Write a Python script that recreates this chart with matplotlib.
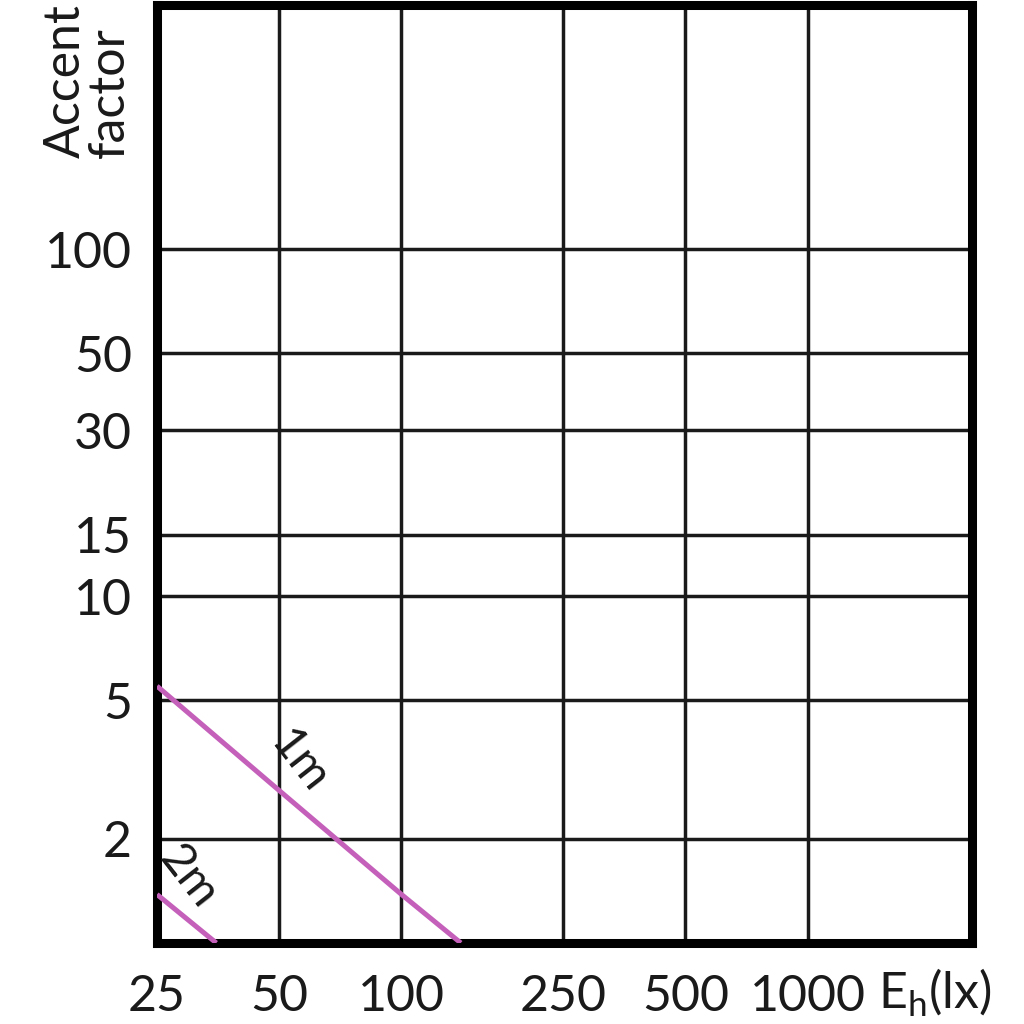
import matplotlib.pyplot as plt
from matplotlib.ticker import FixedLocator, NullLocator

plt.rcParams['font.family'] = ['Lato', 'DejaVu Sans']
plt.rcParams['mathtext.fontset'] = 'custom'
plt.rcParams['mathtext.rm'] = 'Lato'

# axis ticks
x_ticks = [25, 50, 100, 250, 500, 1000]
y_ticks = [2, 5, 10, 15, 30, 50, 100]

# curves (lux vs accent factor)
x_1m = [25, 50, 100, 140]
y_1m = [5.5, 2.75, 1.38, 1.0]
x_2m = [25, 35]
y_2m = [1.38, 1.0]

line_color = '#c45fba'
text_color = '#1a1a1a'

fig = plt.figure(figsize=(10.24, 10.24), dpi=100)
ax = fig.add_axes([157 / 1024, 1 - 943 / 1024, (972 - 157) / 1024, (943 - 5) / 1024])
ax.set_xscale('log')
ax.set_yscale('log')
ax.set_xlim(25, 2540)
ax.set_ylim(1, 505)

ax.plot(x_1m, y_1m, color=line_color, lw=3.6, solid_capstyle='butt', zorder=3)
ax.plot(x_2m, y_2m, color=line_color, lw=3.6, solid_capstyle='butt', zorder=3)

ax.text(56, 3.35, '1m', rotation=-52, fontsize=34, color=text_color,
        ha='center', va='center')
ax.text(29.8, 1.55, '2m', rotation=-52, fontsize=34, color=text_color,
        ha='center', va='center')

ax.xaxis.set_major_locator(FixedLocator(x_ticks))
ax.yaxis.set_major_locator(FixedLocator(y_ticks))
ax.xaxis.set_minor_locator(NullLocator())
ax.yaxis.set_minor_locator(NullLocator())
ax.set_xticklabels([str(v) for v in x_ticks])
ax.set_yticklabels([str(v) for v in y_ticks])
ax.tick_params(axis='both', length=0, labelsize=36, labelcolor=text_color)
ax.tick_params(axis='x', pad=22)
ax.tick_params(axis='y', pad=18)

ax.grid(True, color='#1a1a1a', lw=2.5)
ax.set_axisbelow(True)
for s in ax.spines.values():
    s.set_linewidth(6.5)
    s.set_color('black')

fig.text(88 / 1024, 1 - 158 / 1024, 'Accent\nfactor', rotation=90, fontsize=36,
         color=text_color, ha='center', va='bottom', multialignment='left',
         linespacing=0.95)
fig.text(878 / 1024, 1 - 993 / 1024, r'E$_{\mathregular{h}}$(lx)', fontsize=36,
         color=text_color, ha='left', va='center')

fig.savefig('out.png', dpi=100, facecolor='white')
